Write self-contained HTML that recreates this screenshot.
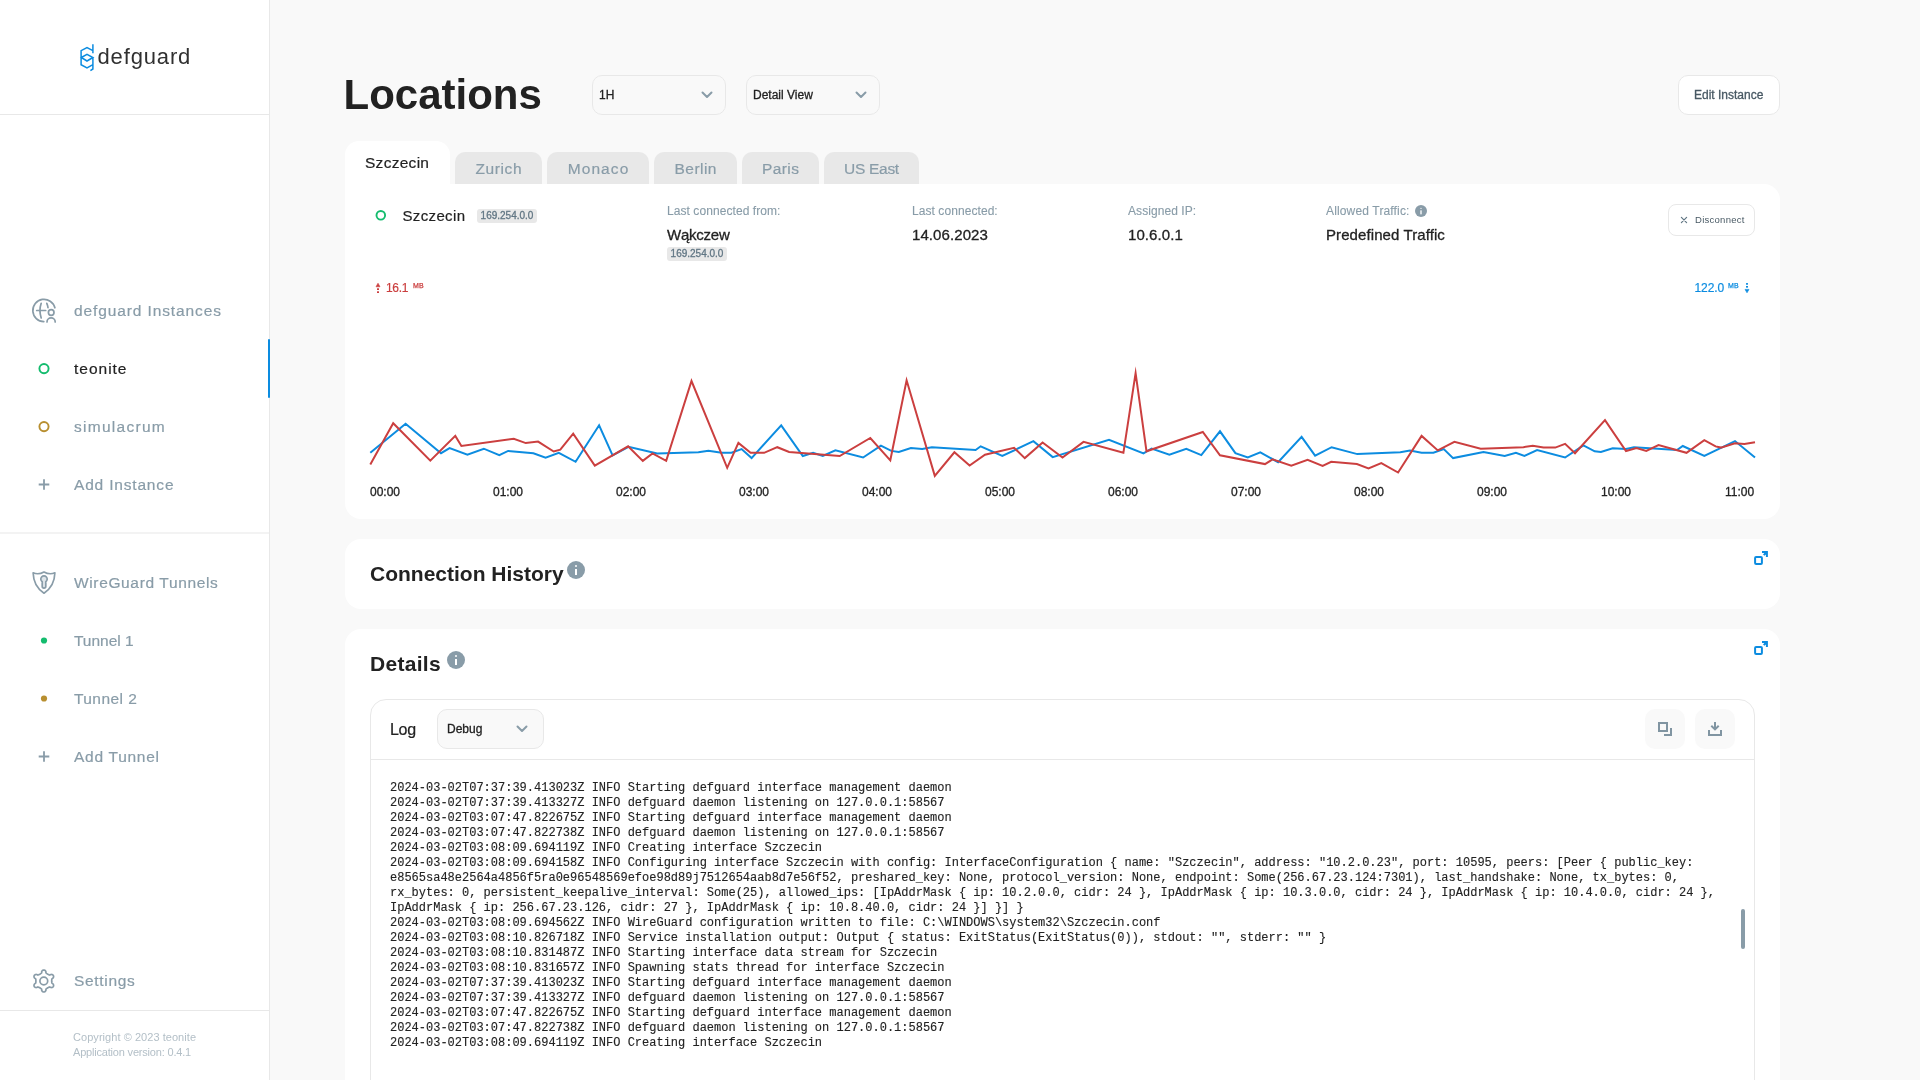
<!DOCTYPE html>
<html lang="en">
<head>
<meta charset="utf-8">
<title>defguard - Locations</title>
<style>
*{box-sizing:border-box;margin:0;padding:0}
html,body{width:1920px;height:1080px;overflow:hidden;background:#f9f9f9;font-family:"Liberation Sans",sans-serif;color:#222}
#wrap{position:absolute;left:0;top:0;width:1920px;height:1080px;will-change:transform}
.abs{position:absolute}
.m{-webkit-text-stroke:.3px}
.t{position:absolute;white-space:pre;line-height:1}
#side{position:absolute;left:0;top:0;width:270px;height:1080px;background:#fff;border-right:1px solid #e8e8e8}
.hr{position:absolute;left:0;width:269px;height:1px;background:#e8e8e8}
.nav{position:absolute;left:74px;font-size:15.500px;-webkit-text-stroke:.2px;color:#899ca8;white-space:pre;line-height:20px;height:20px}
.nav.on{color:#222}
.ring{position:absolute;width:11.5px;height:11.5px;border-radius:50%;border:2px solid #14bc6e}
.dot{position:absolute;width:6px;height:6px;border-radius:50%}
.plus{position:absolute;width:11px;height:11px}
.plus:before,.plus:after{content:"";position:absolute;background:#899ca8}
.plus:before{left:0;top:4.65px;width:11px;height:1.7px}
.plus:after{top:0;left:4.65px;height:11px;width:1.7px}
#main{position:absolute;left:270px;top:0;width:1650px;height:1080px}
.sel{position:absolute;height:40px;border:1px solid #e8e8e8;border-radius:10px;background:#f9f9f9}
.sel span{position:absolute;left:6px;top:12px;font-size:12px;-webkit-text-stroke:.3px;color:#222;line-height:14px;white-space:pre}
.sel svg{position:absolute;right:12px;top:15px}
.btn{position:absolute;border:1px solid #e8e8e8;background:#fff;border-radius:10px}
.tab{position:absolute;top:152px;height:32px;padding-top:1px;background:#e8e8e8;border-radius:10px 10px 0 0;color:#899ca8;font-size:15.500px;-webkit-text-stroke:.2px;line-height:32px;text-align:center;white-space:pre}
.card{position:absolute;left:345px;width:1435px;background:#fff;border-radius:16px}
.lbl{position:absolute;font-size:12px;-webkit-text-stroke:.12px;color:#899ca8;line-height:14px;white-space:pre;letter-spacing:.07px}
.val{position:absolute;font-size:15px;-webkit-text-stroke:.3px;letter-spacing:.09px;color:#222;line-height:18px;white-space:pre}
.badge{position:absolute;height:14px;border-radius:3px;background:#e8e8e8;color:#617684;font-size:10px;-webkit-text-stroke:.3px;line-height:13px;text-align:center;white-space:pre}
.ax{position:absolute;top:485px;font-size:12px;-webkit-text-stroke:.3px;color:#222;line-height:14px;white-space:pre}
.h2{position:absolute;font-size:21px;font-weight:700;color:#222;line-height:26px;white-space:pre}
.info{position:absolute;width:18px;height:18px;border-radius:50%;background:#899ca8}
.info:before{content:"";position:absolute;left:8px;top:4px;width:2px;height:2px;background:#fff;border-radius:1px}
.info:after{content:"";position:absolute;left:8px;top:7.5px;width:2px;height:6.5px;background:#fff}
#log{position:absolute;left:390px;top:781px;-webkit-text-stroke:.12px;width:1340px;font-family:"Liberation Mono",monospace;font-size:12px;line-height:15px;color:#222;white-space:pre}
</style>
</head>
<body>
<div id="wrap">
<div id="side">
  <!-- logo -->
  <svg class="abs" style="left:76px;top:40px" width="24" height="36" viewBox="76 40 24 36" fill="none" stroke="#0c8ce0" stroke-width="1.5" stroke-linejoin="miter">
    <path d="M92.9 44.2V53.3M92.9 50.7L87 47.5L81.1 50.7V64.7L87 67.8L92.9 64.7M81.3 57.5L87 54.3L92.9 57.5L87 61Z M92.9 57.5V69L90.4 70.6"/>
  </svg>
  <div class="t" style="left:97.500px;top:46px;font-size:22px;color:#303030;letter-spacing:.85px">defguard</div>
  <div class="hr" style="top:114px"></div>

  <!-- instances -->
  <svg class="abs" style="left:30px;top:297px" width="28" height="28" viewBox="30 297 28 28" fill="none" stroke="#899ca8" stroke-width="1.7" stroke-linecap="round">
    <path d="M43.800 321.700A11.200 11.200 0 1 1 54.900 307.800"/>
    <path d="M36.700 310.500H45.700"/>
    <path d="M41.200 303.300Q38.700 310.500 41.200 317.900"/>
    <path d="M46.800 303.300Q47.800 305.500 48 307.700"/>
    <circle cx="51.2" cy="312.5" r="2.8"/>
    <path d="M47 321.9A4.1 4.1 0 0 1 55.2 321.9"/>
  </svg>
  <div class="nav" style="top:301px;letter-spacing:0.89px">defguard Instances</div>

  <svg class="abs" style="left:36px;top:360px" width="16" height="16" viewBox="36 360 16 16"><circle cx="44" cy="368.6" r="4.6" fill="none" stroke="#14bc6e" stroke-width="1.9"/></svg>
  <div class="nav on" style="top:359px;letter-spacing:0.99px">teonite</div>
  <div class="abs" style="left:268px;top:339px;width:2px;height:59px;background:#0c8ce0;border-radius:1px"></div>

  <svg class="abs" style="left:36px;top:418px" width="16" height="16" viewBox="36 418 16 16"><circle cx="44" cy="426.6" r="4.6" fill="none" stroke="#b88f30" stroke-width="1.9"/></svg>
  <div class="nav" style="top:417px;letter-spacing:1.28px">simulacrum</div>

  <svg class="abs" style="left:36px;top:476px" width="16" height="16" viewBox="36 476 16 16" stroke="#899ca8" stroke-width="1.800"><path d="M38.7 484.5H49.3M44 479.2V489.8"/></svg>
  <div class="nav" style="top:475px;letter-spacing:0.82px">Add Instance</div>

  <div class="hr" style="top:532px;height:2px;background:#f3f3f3"></div>

  <!-- tunnels -->
  <svg class="abs" style="left:30px;top:568px" width="28" height="28" viewBox="30 568 28 28" fill="none" stroke="#899ca8" stroke-width="1.7" stroke-linejoin="round" stroke-linecap="round">
    <path d="M44 572Q38.5 575 33.1 572.8Q33.5 586.5 44 593.2Q54.5 586.5 54.9 572.8Q49.5 575 44 572Z"/>
    <path d="M42.2 581.7A3.2 3.2 0 1 1 45.8 581.7V586.3A1.8 1.8 0 0 1 42.2 586.3Z" fill="#dfe5e9"/>
  </svg>
  <div class="nav" style="top:573px;letter-spacing:0.64px">WireGuard Tunnels</div>

  <svg class="abs" style="left:36px;top:632px" width="16" height="16" viewBox="36 632 16 16"><circle cx="44" cy="640.5" r="3.1" fill="#14bc6e"/></svg>
  <div class="nav" style="top:631px;letter-spacing:-0.03px">Tunnel 1</div>
  <svg class="abs" style="left:36px;top:690px" width="16" height="16" viewBox="36 690 16 16"><circle cx="44" cy="698.5" r="3.1" fill="#b88f30"/></svg>
  <div class="nav" style="top:689px;letter-spacing:0.43px">Tunnel 2</div>
  <svg class="abs" style="left:36px;top:748px" width="16" height="16" viewBox="36 748 16 16" stroke="#899ca8" stroke-width="1.800"><path d="M38.7 756.5H49.3M44 751.2V761.8"/></svg>
  <div class="nav" style="top:747px;letter-spacing:0.73px">Add Tunnel</div>

  <!-- settings -->
  <svg class="abs" id="gear" style="left:30px;top:967px" width="28" height="28" viewBox="30 967 28 28" fill="none" stroke="#899ca8" stroke-width="1.7" stroke-linejoin="round">
    <circle cx="43.8" cy="981" r="3.9"/>
    <path id="gearp" d="M51.70 981.00L51.71 980.65L51.72 980.31L51.75 979.95L51.79 979.59L51.84 979.22L51.91 978.83L52.99 978.10L53.36 977.52L53.55 976.96L53.59 976.43L53.51 975.94L53.33 975.50L53.04 975.12L52.65 974.80L52.17 974.58L51.60 974.46L50.90 974.49L49.74 975.06L49.36 974.93L49.01 974.79L48.68 974.64L48.36 974.48L48.05 974.33L47.75 974.16L47.45 973.98L47.16 973.79L46.87 973.59L46.57 973.38L46.27 973.15L45.97 972.89L45.89 971.59L45.57 970.98L45.18 970.54L44.74 970.24L44.28 970.06L43.80 970.00L43.32 970.06L42.86 970.24L42.42 970.54L42.03 970.98L41.71 971.59L41.63 972.89L41.33 973.15L41.03 973.38L40.73 973.59L40.44 973.79L40.15 973.98L39.85 974.16L39.55 974.33L39.24 974.48L38.92 974.64L38.59 974.79L38.24 974.93L37.86 975.06L36.70 974.49L36.00 974.46L35.43 974.58L34.95 974.80L34.56 975.12L34.27 975.50L34.09 975.94L34.01 976.43L34.05 976.96L34.24 977.52L34.61 978.10L35.69 978.83L35.76 979.22L35.81 979.59L35.85 979.95L35.88 980.31L35.89 980.65L35.90 981.00L35.89 981.35L35.88 981.69L35.85 982.05L35.81 982.41L35.76 982.78L35.69 983.17L34.61 983.90L34.24 984.48L34.05 985.04L34.01 985.57L34.09 986.06L34.27 986.50L34.56 986.88L34.95 987.20L35.43 987.42L36.00 987.54L36.70 987.51L37.86 986.94L38.24 987.07L38.59 987.21L38.92 987.36L39.24 987.52L39.55 987.67L39.85 987.84L40.15 988.02L40.44 988.21L40.73 988.41L41.03 988.62L41.33 988.85L41.63 989.11L41.71 990.41L42.03 991.02L42.42 991.46L42.86 991.76L43.32 991.94L43.80 992.00L44.28 991.94L44.74 991.76L45.18 991.46L45.57 991.02L45.89 990.41L45.97 989.11L46.27 988.85L46.57 988.62L46.87 988.41L47.16 988.21L47.45 988.02L47.75 987.84L48.05 987.67L48.36 987.52L48.68 987.36L49.01 987.21L49.36 987.07L49.74 986.94L50.90 987.51L51.60 987.54L52.17 987.42L52.65 987.20L53.04 986.88L53.33 986.50L53.51 986.06L53.59 985.57L53.55 985.04L53.36 984.48L52.99 983.90L51.91 983.17L51.84 982.78L51.79 982.41L51.75 982.05L51.72 981.69L51.71 981.35Z"/>
  </svg>
  <div class="nav" style="top:971px;letter-spacing:0.68px">Settings</div>
  <div class="hr" style="top:1010px"></div>
  <div class="t" style="left:73px;top:1032px;font-size:11px;color:#b3bfc7;letter-spacing:.05px">Copyright © 2023 teonite</div>
  <div class="t" style="left:73px;top:1047px;font-size:11px;color:#b3bfc7;letter-spacing:-.19px">Application version: 0.4.1</div>
</div>

<!-- header -->
<div class="t" style="left:343.500px;top:74px;font-size:42px;font-weight:700;color:#222">Locations</div>
<div class="sel" style="left:592px;top:75px;width:134px"><span>1H</span><svg width="12" height="8" viewBox="0 0 12 8" fill="none" stroke="#899ca8" stroke-width="2" stroke-linecap="round" stroke-linejoin="round"><path d="M1.5 1.5L6 6L10.500 1.5"/></svg></div>
<div class="sel" style="left:746px;top:75px;width:134px"><span>Detail View</span><svg width="12" height="8" viewBox="0 0 12 8" fill="none" stroke="#899ca8" stroke-width="2" stroke-linecap="round" stroke-linejoin="round"><path d="M1.5 1.5L6 6L10.500 1.5"/></svg></div>
<div class="btn" style="left:1678px;top:75px;width:102px;height:40px"><span class="t" style="left:15px;top:13px;font-size:12px;-webkit-text-stroke:.3px;color:#485964">Edit Instance</span></div>

<!-- tabs -->
<div class="abs" style="left:345px;top:141px;width:105px;height:50px;background:#fff;border-radius:14px 14px 0 0"></div>
<div class="t" style="left:365px;top:155px;font-size:15.500px;letter-spacing:.28px;-webkit-text-stroke:.2px;color:#222">Szczecin</div>
<div class="tab" style="left:455px;width:87px;letter-spacing:.6px;padding-left:.6px">Zurich</div>
<div class="tab" style="left:547px;width:102px;letter-spacing:1.1px;padding-left:1.1px">Monaco</div>
<div class="tab" style="left:654px;width:83px;letter-spacing:.45px;padding-left:.45px">Berlin</div>
<div class="tab" style="left:742px;width:77px;letter-spacing:.4px;padding-left:.4px">Paris</div>
<div class="tab" style="left:824px;width:95px;letter-spacing:-.3px">US East</div>

<!-- card 1 -->
<div class="card" style="top:184px;height:335px;border-top-left-radius:0"></div>
<svg class="abs" style="left:372px;top:207px" width="16" height="16" viewBox="372 207 16 16"><circle cx="380.8" cy="215.3" r="4.3" fill="none" stroke="#14bc6e" stroke-width="1.9"/></svg>
<div class="t" style="left:402.500px;top:208px;font-size:15px;letter-spacing:.35px;-webkit-text-stroke:.2px;color:#222">Szczecin</div>
<div class="badge" style="left:477px;top:209px;width:60px">169.254.0.0</div>

<div class="lbl" style="left:667px;top:204px">Last connected from:</div>
<div class="val" style="left:667px;top:226px;letter-spacing:-.24px">Wąkczew</div>
<div class="badge" style="left:667px;top:247px;width:60px">169.254.0.0</div>
<div class="lbl" style="left:912px;top:204px">Last connected:</div>
<div class="val" style="left:912px;top:226px">14.06.2023</div>
<div class="lbl" style="left:1128px;top:204px">Assigned IP:</div>
<div class="val" style="left:1128px;top:226px">10.6.0.1</div>
<div class="lbl" style="left:1326px;top:204px;letter-spacing:.15px">Allowed Traffic:</div>
<div class="info" style="left:1415px;top:205px;transform:scale(.667);transform-origin:0 0"></div>
<div class="val" style="left:1326px;top:226px">Predefined Traffic</div>
<div class="btn" style="left:1668px;top:204px;width:87px;height:32px;border-radius:8px">
  <svg class="abs" style="left:11px;top:11px" width="8" height="8" viewBox="0 0 8 8" stroke="#617684" stroke-width="1.2" stroke-linecap="round"><path d="M1.400 1.400L6.600 6.600M6.600 1.400L1.400 6.600"/></svg>
  <span class="t" style="left:26px;top:10px;font-size:9.500px;letter-spacing:.27px;color:#485964">Disconnect</span>
</div>

<!-- chart -->
<svg class="abs" style="left:374px;top:282px" width="8" height="12" viewBox="0 0 8 12" fill="#cb3f3f"><path d="M4 1.200L6 4.800H2Z" stroke="#cb3f3f" stroke-width=".6" stroke-linejoin="round"/><rect x="3" y="6.300" width="2" height="1.700"/><rect x="3" y="9.300" width="2" height="1.700"/></svg>
<div class="t" style="left:386px;top:282px;font-size:12px;-webkit-text-stroke:.2px;letter-spacing:-.3px;color:#cb3f3f">16.1</div>
<div class="t" style="left:413px;top:282px;font-size:7px;-webkit-text-stroke:.25px;letter-spacing:.15px;color:#cb3f3f">MB</div>
<div class="t" style="left:1694.500px;top:282px;font-size:12px;-webkit-text-stroke:.2px;letter-spacing:-.1px;color:#0c8ce0">122.0</div>
<div class="t" style="left:1728px;top:282px;font-size:7px;-webkit-text-stroke:.25px;letter-spacing:.15px;color:#0c8ce0">MB</div>
<svg class="abs" style="left:1743px;top:282px" width="8" height="12" viewBox="0 0 8 12" fill="#0c8ce0"><path d="M4 10.800L6 7.400H2Z" stroke="#0c8ce0" stroke-width=".6" stroke-linejoin="round"/><rect x="3" y="1.100" width="2" height="1.600"/><rect x="3" y="4" width="2" height="1.600"/></svg>

<svg class="abs" style="left:345px;top:360px" width="1435" height="130" viewBox="345 360 1435 130" fill="none" stroke-width="2" stroke-linejoin="miter" stroke-miterlimit="12">
  <polyline id="blue" stroke="#0c8ce0" points="370.3,452.8 405.6,423.8 441.0,453.2 449.6,448.1 467.4,454.7 483.8,448.7 499.3,455.1 508.1,450.9 533.4,453.2 545.6,457.7 558.8,452.8 575.6,461.8 599.1,425.3 612.6,455.3 628.5,446.8 657.2,453.4 698.4,452.3 708.4,450.7 721.6,452.8 731.5,452.8 741.6,449.1 751.6,458.1 781.2,425.3 802.8,456.0 813.1,452.8 822.8,456.0 835.4,450.4 863.1,457.5 880.9,445.7 891.3,450.9 898.8,451.9 910.9,448.1 922.2,448.9 931.9,447.2 975.6,450.0 980.7,446.3 1002.3,456.0 1033.4,441.2 1052.7,457.1 1109.0,439.7 1143.5,453.4 1151.6,448.5 1169.4,454.7 1186.3,448.9 1201.3,455.1 1220.0,431.3 1235.4,453.2 1247.8,457.5 1260.3,452.4 1278.1,462.2 1301.6,436.9 1315.1,455.6 1331.6,447.2 1357.3,454.1 1400.3,452.3 1410.0,450.6 1421.6,452.8 1433.4,452.8 1443.8,449.1 1453.1,458.1 1483.5,451.9 1504.7,456.0 1515.9,452.8 1524.4,456.0 1537.1,450.0 1565.1,457.5 1583.4,445.3 1594.7,451.3 1600.9,451.9 1612.7,448.2 1626.0,449.0 1634.0,447.2 1677.0,450.1 1682.8,446.0 1704.3,456.0 1735.0,441.1 1755.0,457.6"/>
  <polyline id="red" stroke="#cb3f3f" points="370.3,464.4 393.2,423.2 430.3,460.7 455.3,435.9 461.4,445.9 513.8,438.8 525.8,443.1 538.1,441.6 553.7,451.5 560.3,449.6 573.2,433.7 594.8,465.6 628.1,446.3 642.8,460.9 652.5,453.4 666.2,460.9 691.5,381.0 727.2,467.8 738.4,442.9 750.6,452.8 764.1,452.8 777.3,447.2 789.1,451.9 839.7,456.0 870.3,438.0 890.3,460.3 906.6,380.3 934.8,475.9 954.4,452.3 969.6,465.6 985.0,454.7 1014.1,447.8 1024.8,458.1 1042.6,442.5 1062.5,457.5 1083.5,441.9 1123.4,452.8 1135.6,373.1 1146.5,451.3 1202.8,432.0 1220.0,455.3 1265.0,464.1 1272.5,459.4 1291.3,465.6 1307.6,459.8 1322.6,465.9 1331.2,461.8 1356.9,464.1 1368.5,468.4 1381.3,463.1 1398.1,472.5 1421.6,435.9 1437.8,450.4 1454.4,441.9 1480.7,448.7 1523.4,447.2 1532.8,445.7 1543.5,447.6 1555.3,447.6 1565.1,443.8 1575.0,453.2 1605.0,420.1 1626.0,451.0 1636.5,448.0 1646.3,451.0 1658.5,445.0 1686.5,452.8 1704.3,440.1 1715.6,446.4 1720.9,447.6 1735.0,443.3 1744.4,444.0 1755.0,442.2"/>
</svg>

<div class="ax" style="left:370px">00:00</div>
<div class="ax" style="left:493px">01:00</div>
<div class="ax" style="left:616px">02:00</div>
<div class="ax" style="left:739px">03:00</div>
<div class="ax" style="left:862px">04:00</div>
<div class="ax" style="left:985px">05:00</div>
<div class="ax" style="left:1108px">06:00</div>
<div class="ax" style="left:1231px">07:00</div>
<div class="ax" style="left:1354px">08:00</div>
<div class="ax" style="left:1477px">09:00</div>
<div class="ax" style="left:1601px">10:00</div>
<div class="ax" style="left:1725px">11:00</div>

<!-- card 2 -->
<div class="card" style="top:539px;height:70px"></div>
<div class="h2" style="left:370px;top:561px">Connection History</div>
<div class="info" style="left:567px;top:561px"></div>

<svg class="abs" style="left:1750px;top:547px" width="22" height="20" viewBox="1750 547 22 20" fill="none" stroke="#0c8ce0" stroke-width="2"><rect x="1755.100" y="556.900" width="6.800" height="7" rx="1"/><path d="M1762 551.900H1766.900V556.900" stroke-linejoin="miter"/><path d="M1766.600 552.200L1763.700 555.100"/><path d="M1766 552.800V555L1764.200 552.800Z" fill="#0c8ce0" stroke="none"/></svg>

<!-- card 3 -->
<div class="card" style="top:629px;height:500px"></div>
<div class="h2" style="left:370px;top:651px;letter-spacing:.3px">Details</div>
<div class="info" style="left:447px;top:651px"></div>

<svg class="abs" style="left:1750px;top:637px" width="22" height="20" viewBox="1750 547 22 20" fill="none" stroke="#0c8ce0" stroke-width="2"><rect x="1755.100" y="556.900" width="6.800" height="7" rx="1"/><path d="M1762 551.900H1766.900V556.900" stroke-linejoin="miter"/><path d="M1766.600 552.200L1763.700 555.100"/><path d="M1766 552.800V555L1764.200 552.800Z" fill="#0c8ce0" stroke="none"/></svg>
<div class="abs" style="left:370px;top:699px;width:1385px;height:420px;border:1px solid #e8e8e8;border-radius:16px 16px 0 0"></div>
<div class="abs" style="left:370px;top:759px;width:1385px;height:1px;background:#e8e8e8"></div>
<div class="t" style="left:390px;top:722px;font-size:16px;-webkit-text-stroke:.2px;color:#222;letter-spacing:-.3px">Log</div>
<div class="sel" style="left:437px;top:709px;width:107px"><span style="left:9px">Debug</span><svg style="right:15px" width="12" height="8" viewBox="0 0 12 8" fill="none" stroke="#899ca8" stroke-width="2" stroke-linecap="round" stroke-linejoin="round"><path d="M1.5 1.5L6 6L10.500 1.5"/></svg></div>
<div class="abs" style="left:1645px;top:709px;width:40px;height:40px;border-radius:10px;background:#f9f9f9"></div>
<div class="abs" style="left:1695px;top:709px;width:40px;height:40px;border-radius:10px;background:#f9f9f9"></div>

<svg class="abs" style="left:1645px;top:709px" width="40" height="40" viewBox="1645 709 40 40" fill="none" stroke="#8195a2" stroke-width="2"><rect x="1659" y="723" width="8" height="8"/><path d="M1671 728V734.900H1664"/></svg>
<svg class="abs" style="left:1695px;top:709px" width="40" height="40" viewBox="1695 709 40 40" fill="none" stroke="#8195a2" stroke-width="2"><path d="M1715 722V729"/><path d="M1711.300 725.800L1715 729.400L1718.700 725.800"/><path d="M1709 730V735H1721V730"/></svg>
<div id="log">2024-03-02T07:37:39.413023Z INFO Starting defguard interface management daemon
2024-03-02T07:37:39.413327Z INFO defguard daemon listening on 127.0.0.1:58567
2024-03-02T03:07:47.822675Z INFO Starting defguard interface management daemon
2024-03-02T03:07:47.822738Z INFO defguard daemon listening on 127.0.0.1:58567
2024-03-02T03:08:09.694119Z INFO Creating interface Szczecin
2024-03-02T03:08:09.694158Z INFO Configuring interface Szczecin with config: InterfaceConfiguration { name: "Szczecin", address: "10.2.0.23", port: 10595, peers: [Peer { public_key:
e8565sa48e2564a4856f5ra0e96548569efoe98d89j7512654aab8d7e56f52, preshared_key: None, protocol_version: None, endpoint: Some(256.67.23.124:7301), last_handshake: None, tx_bytes: 0,
rx_bytes: 0, persistent_keepalive_interval: Some(25), allowed_ips: [IpAddrMask { ip: 10.2.0.0, cidr: 24 }, IpAddrMask { ip: 10.3.0.0, cidr: 24 }, IpAddrMask { ip: 10.4.0.0, cidr: 24 },
IpAddrMask { ip: 256.67.23.126, cidr: 27 }, IpAddrMask { ip: 10.8.40.0, cidr: 24 }] }] }
2024-03-02T03:08:09.694562Z INFO WireGuard configuration written to file: C:\WINDOWS\system32\Szczecin.conf
2024-03-02T03:08:10.826718Z INFO Service installation output: Output { status: ExitStatus(ExitStatus(0)), stdout: "", stderr: "" }
2024-03-02T03:08:10.831487Z INFO Starting interface data stream for Szczecin
2024-03-02T03:08:10.831657Z INFO Spawning stats thread for interface Szczecin
2024-03-02T07:37:39.413023Z INFO Starting defguard interface management daemon
2024-03-02T07:37:39.413327Z INFO defguard daemon listening on 127.0.0.1:58567
2024-03-02T03:07:47.822675Z INFO Starting defguard interface management daemon
2024-03-02T03:07:47.822738Z INFO defguard daemon listening on 127.0.0.1:58567
2024-03-02T03:08:09.694119Z INFO Creating interface Szczecin</div>
<div class="abs" style="left:1741px;top:909px;width:4px;height:40px;border-radius:2px;background:#899ca8"></div>
</div>
</body>
</html>
